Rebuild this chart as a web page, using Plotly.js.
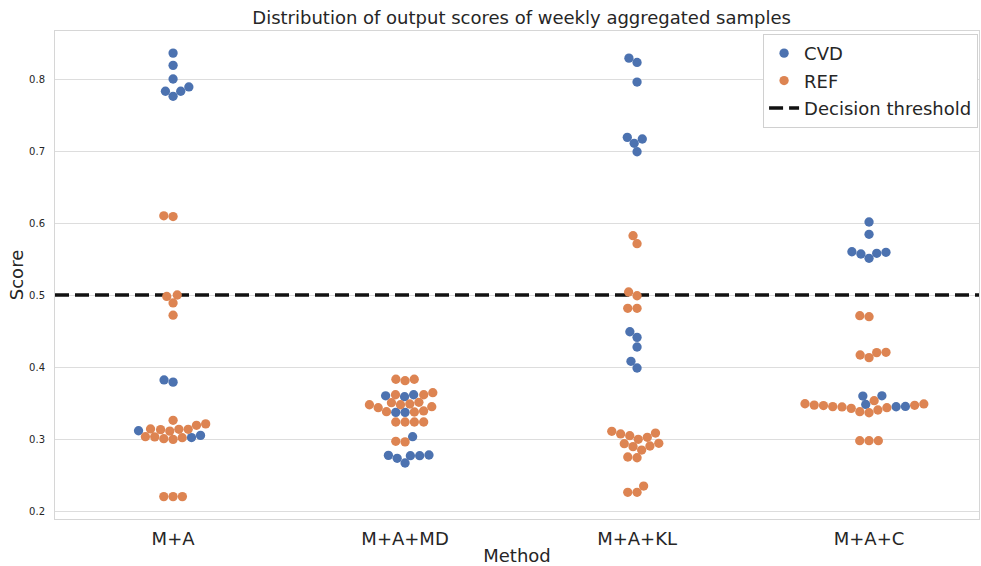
<!DOCTYPE html>
<html><head><meta charset="utf-8">
<script src="https://cdn.plot.ly/plotly-3.0.1.min.js"></script>
<style>html,body{margin:0;padding:0;background:#fff;overflow:hidden}</style>
</head><body><div id="chart" style="width:981px;height:566px"></div>
<script>
// ---- data ----
const methods = ["M+A", "M+A+MD", "M+A+KL", "M+A+C"];
const seriesNames = ["CVD", "REF"];
const cvdMA   = [0.836, 0.819, 0.800, 0.783, 0.776, 0.783, 0.789, 0.382, 0.379, 0.3115, 0.302, 0.305];
const refMA   = [0.610, 0.609, 0.498, 0.500, 0.489, 0.472, 0.326, 0.319, 0.321, 0.3135, 0.311, 0.313, 0.3135, 0.314, 0.3032, 0.3030, 0.3004, 0.2995, 0.3018, 0.220, 0.220, 0.220];
const cvdMAMD = [0.360, 0.3615, 0.3588, 0.337, 0.337, 0.3032, 0.2773, 0.2732, 0.2667, 0.2768, 0.2768, 0.2778];
const refMAMD = [0.383, 0.381, 0.383, 0.3615, 0.3643, 0.3615, 0.3486, 0.3435, 0.3504, 0.3476, 0.351, 0.3449, 0.3476, 0.3379, 0.3375, 0.339, 0.3236, 0.3236, 0.3236, 0.3236, 0.2968, 0.296];
const cvdMAKL = [0.829, 0.823, 0.7958, 0.719, 0.7167, 0.7107, 0.699, 0.449, 0.4412, 0.4278, 0.4079, 0.3986];
const refMAKL = [0.5824, 0.5713, 0.5042, 0.499, 0.4815, 0.4815, 0.3107, 0.3024, 0.3046, 0.307, 0.3083, 0.2996, 0.2935, 0.2894, 0.2903, 0.294, 0.2847, 0.275, 0.274, 0.226, 0.226, 0.2347];
const cvdMAC  = [0.6014, 0.5843, 0.5601, 0.557, 0.551, 0.5579, 0.5593, 0.3597, 0.360, 0.3480, 0.3448, 0.3452];
const refMAC  = [0.4713, 0.4699, 0.4167, 0.413, 0.420, 0.4204, 0.3490, 0.3465, 0.3468, 0.3445, 0.3450, 0.3426, 0.3379, 0.3365, 0.3403, 0.3435, 0.3532, 0.3471, 0.3487, 0.2977, 0.2977, 0.2977];
const cvdByMethod = [cvdMA, cvdMAMD, cvdMAKL, cvdMAC];
const refByMethod = [refMA, refMAMD, refMAKL, refMAC];
const threshold = 0.5;
const yTicks = [0.2, 0.3, 0.4, 0.5, 0.6, 0.7, 0.8];

// ---- layout geometry ----
const W = 981, H = 566;
const M = {l: 55, r: 2, t: 31, b: 47};
const xRange = [-0.509, 3.474], yRange = [0.1889, 0.8667];
const pxX = (W - M.l - M.r) / (xRange[1] - xRange[0]);
const pxY = (H - M.t - M.b) / (yRange[1] - yRange[0]);
const D = 8.86; // swarm collision diameter (px)

// beeswarm (seaborn-like) in pixel space
function swarm(vals) {
  const ys = vals.map(v => v * pxY);
  const order = ys.map((_, i) => i).sort((a, b) => ys[a] - ys[b]);
  const placed = [];
  const out = new Array(vals.length);
  for (const i of order) {
    const y = ys[i];
    const nb = [];
    for (let k = placed.length - 1; k >= 0; k--) {
      if (y - placed[k].y < D) nb.push(placed[k]); else break;
    }
    let cands = [0];
    let leftFirst = true;
    for (const p of nb) {
      const dy = y - p.y;
      const dx = Math.sqrt(Math.max(D * D - dy * dy, 0)) * 1.05;
      if (leftFirst) cands.push(p.x - dx, p.x + dx); else cands.push(p.x + dx, p.x - dx);
      leftFirst = !leftFirst;
    }
    cands = cands.map((c, k) => [c, k]).sort((a, b) => (Math.abs(a[0]) - Math.abs(b[0])) || (a[1] - b[1])).map(a => a[0]);
    let chosen = cands[cands.length - 1];
    for (const c of cands) {
      if (nb.every(p => (c - p.x) ** 2 + (y - p.y) ** 2 >= D * D * 0.9999)) { chosen = c; break; }
    }
    placed.push({x: chosen, y: y});
    out[i] = chosen;
  }
  return out;
}

const cvdX = [], cvdY = [], refX = [], refY = [];
methods.forEach((m, ci) => {
  const c = cvdByMethod[ci], r = refByMethod[ci];
  const all = c.concat(r);
  const off = swarm(all);
  all.forEach((v, k) => {
    const x = ci + off[k] / pxX;
    if (k < c.length) { cvdX.push(x); cvdY.push(v); }
    else { refX.push(x); refY.push(v); }
  });
});

const txt = '#262626';
const font = 'DejaVu Sans, sans-serif';
const traces = [
  {type: 'scatter', mode: 'lines', name: 'Decision threshold', x: xRange, y: [threshold, threshold],
   line: {color: '#111111', width: 3.5, dash: '14px,6px'}, legendrank: 3, hoverinfo: 'skip', legendgroup: 'c'},
  {type: 'scatter', mode: 'markers', name: seriesNames[0], x: cvdX, y: cvdY,
   marker: {color: '#4C72B0', size: 9.3, line: {width: 0}}, legendrank: 1, legendgroup: 'a'},
  {type: 'scatter', mode: 'markers', name: seriesNames[1], x: refX, y: refY,
   marker: {color: '#DD8452', size: 9.3, line: {width: 0}}, legendrank: 2, legendgroup: 'b'}
];

const layout = {
  width: W, height: H,
  margin: M,
  paper_bgcolor: '#ffffff', plot_bgcolor: '#ffffff',
  font: {family: font, color: txt},
  title: {text: 'Distribution of output scores of weekly aggregated samples', font: {size: 18, color: txt, family: font},
          xref: 'paper', x: 0.505, xanchor: 'center', yref: 'container', y: 0.968, yanchor: 'middle'},
  showlegend: true,
  legend: {x: 0.999, xanchor: 'right', y: 0.994, yanchor: 'top', bgcolor: '#ffffff', bordercolor: '#d0d0d0', borderwidth: 1,
           font: {size: 18, color: txt, family: font}, traceorder: 'grouped', tracegroupgap: 1},
  xaxis: {range: xRange, tickvals: [0, 1, 2, 3], ticktext: methods, tickfont: {size: 18, color: txt},
          showgrid: false, zeroline: false, showline: true, mirror: true, linecolor: '#d6d6d6', linewidth: 1,
          ticks: 'outside', ticklen: 3, tickcolor: 'rgba(0,0,0,0)', automargin: false,
          title: {text: 'Method', font: {size: 18, color: txt}, standoff: 5}},
  yaxis: {range: yRange, tickvals: yTicks, ticktext: yTicks.map(v => v.toFixed(1)), tickfont: {size: 10, color: txt},
          showgrid: true, gridcolor: '#dddddd', gridwidth: 1, zeroline: false, showline: true, mirror: true,
          linecolor: '#d6d6d6', linewidth: 1, ticks: 'outside', ticklen: 7, tickcolor: 'rgba(0,0,0,0)', automargin: false,
          title: {text: 'Score', font: {size: 18, color: txt}, standoff: 0}}
};

Plotly.newPlot('chart', traces, layout, {displayModeBar: false, staticPlot: true});
</script></body></html>
